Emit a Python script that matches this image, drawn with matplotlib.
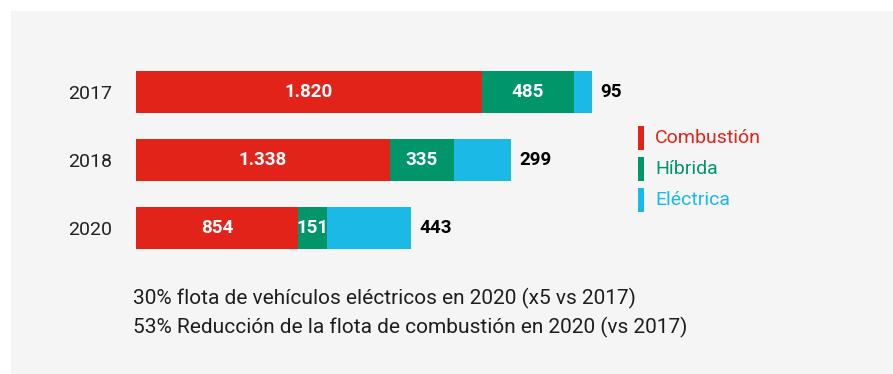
import matplotlib.pyplot as plt
from matplotlib.patches import Rectangle

plt.rcParams['font.family'] = ['Roboto', 'DejaVu Sans']

years = ['2017', '2018', '2020']
combustion = [1820, 1338, 854]
hibrida = [485, 335, 151]
electrica = [95, 299, 443]
series_names = ['Combustión', 'Híbrida', 'Eléctrica']
notes = ['30% flota de vehículos eléctricos en 2020 (x5 vs 2017)',
         '53% Reducción de la flota de combustión en 2020 (vs 2017)']

red = '#e2231a'
green = '#009669'
blue = '#1bb9e6'
colors = [red, green, blue]

W, H = 893, 374
fig = plt.figure(figsize=(W / 100, H / 100), dpi=100)
fig.patch.set_facecolor('white')

# light grey panel behind everything
fig.add_artist(Rectangle((11 / W, 0), 1, 1 - 11 / H, transform=fig.transFigure,
                         facecolor='#f5f5f5', edgecolor='none', zorder=0))


def fmt(v):
    return f'{v:,}'.replace(',', '.')


# bar area: left edge at x=136px, rows 68px apart
ax = fig.add_axes([136 / W, (H - 262) / H, 500 / W, 204 / H])
ax.set_facecolor('none')
ax.set_xlim(0, 2632)
ax.set_ylim(2.5, -0.5)
for s in ax.spines.values():
    s.set_visible(False)
ax.set_xticks([])
ax.set_yticks(range(len(years)))
ax.set_yticklabels(years, fontsize=14, color='#222222')
ax.tick_params(axis='y', length=0, pad=17)

ypos = list(range(len(years)))
left = [0] * len(years)
for vals, c in zip([combustion, hibrida, electrica], colors):
    ax.barh(ypos, vals, left=left, height=0.63, color=c, edgecolor='none')
    left = [l + v for l, v in zip(left, vals)]

# values inside red and green segments, totals for electric after the bar
for i in ypos:
    ax.text(combustion[i] / 2, i, fmt(combustion[i]), ha='center', va='center',
            color='white', fontsize=13.5, fontweight='bold')
    ax.text(combustion[i] + hibrida[i] / 2, i, fmt(hibrida[i]), ha='center',
            va='center', color='white', fontsize=13.5, fontweight='bold')
    ax.annotate(fmt(electrica[i]), (left[i], i), xytext=(6, 0),
                textcoords='offset points', ha='left', va='center',
                color='black', fontsize=13.5, fontweight='bold')

# legend with coloured labels
leg_y = [138, 169, 200]
for name, c, y in zip(series_names, colors, leg_y):
    fig.add_artist(Rectangle((638 / W, 1 - (y + 12) / H), 6 / W, 24 / H,
                             transform=fig.transFigure, facecolor=c,
                             edgecolor='none'))
    fig.text(655 / W, 1 - y / H, name, color=c, fontsize=14, va='center',
             ha='left')

for txt, y in zip(notes, [298, 327]):
    fig.text(133 / W, 1 - y / H, txt, color='#1e1e1e', fontsize=15,
             va='center', ha='left')

fig.savefig('out.png', dpi=100, facecolor=fig.get_facecolor())
